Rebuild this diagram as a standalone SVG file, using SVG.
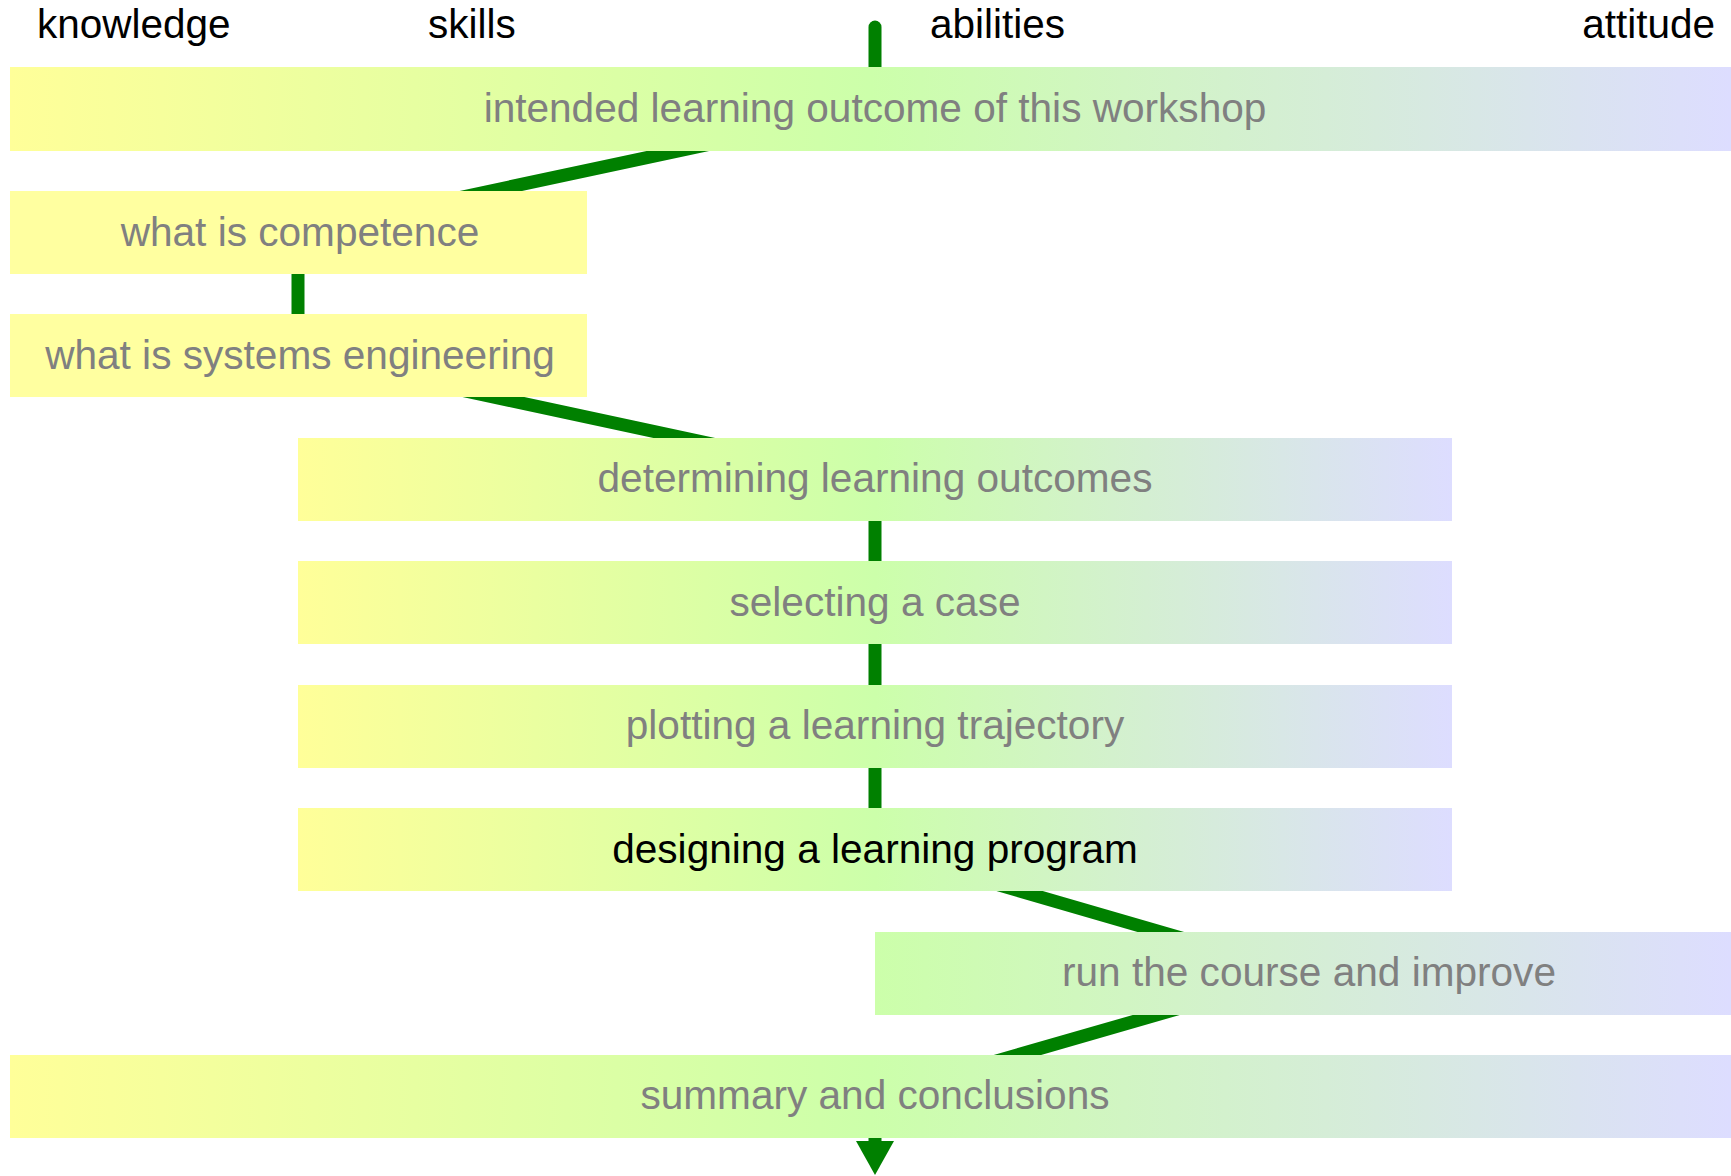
<svg xmlns="http://www.w3.org/2000/svg" width="1731" height="1176" viewBox="0 0 1731 1176">
<defs>
<linearGradient id="gFull" x1="0" y1="0" x2="1" y2="0">
<stop offset="0" stop-color="#ffff99"/>
<stop offset="0.5" stop-color="#ccffaa"/>
<stop offset="1" stop-color="#ddddff"/>
</linearGradient>
<linearGradient id="gHalf" x1="0" y1="0" x2="1" y2="0">
<stop offset="0" stop-color="#ccffaa"/>
<stop offset="1" stop-color="#ddddff"/>
</linearGradient>
<marker id="arrow" markerUnits="userSpaceOnUse" markerWidth="38" markerHeight="38" refX="2" refY="19" orient="auto">
<polygon points="0,0 34,19 0,38" fill="#008000"/>
</marker>
<style>
.hdr{font-family:"Liberation Sans",Arial,sans-serif;font-size:40.5px;fill:#000}
.lbl{font-family:"Liberation Sans",Arial,sans-serif;font-size:40.6px;fill:#808080;text-anchor:middle}
.dark{fill:#000}
.conn{stroke:#008000;stroke-width:13;fill:none;stroke-linecap:round}
.yel{fill:#ffffa0}
.full{fill:url(#gFull)}
.half{fill:url(#gHalf)}
</style>
</defs>
<g id="headers">
<text class="hdr" x="37" y="38">knowledge</text>
<text class="hdr" x="428" y="38">skills</text>
<text class="hdr" x="930" y="38">abilities</text>
<text class="hdr" x="1715" y="38" text-anchor="end">attitude</text>
</g>
<g id="connectors">
<line class="conn" x1="875" y1="27" x2="875" y2="109"/>
<line class="conn" x1="875" y1="109" x2="298" y2="232"/>
<line class="conn" x1="298" y1="232" x2="298" y2="355"/>
<line class="conn" x1="298" y1="355" x2="875" y2="479"/>
<line class="conn" x1="875" y1="479" x2="875" y2="849"/>
<line class="conn" x1="875" y1="849" x2="1302" y2="973"/>
<line class="conn" x1="1302" y1="973" x2="875" y2="1096"/>
<line class="conn" x1="875" y1="1096" x2="875" y2="1143" stroke-linecap="butt" marker-end="url(#arrow)"/>
</g>
<g id="n-outcome">
<rect class="full" x="10" y="67" width="1721" height="84"/>
<text class="lbl" x="875" y="122">intended learning outcome of this workshop</text>
</g>
<g id="n-competence">
<rect class="yel" x="10" y="191" width="577" height="83"/>
<text class="lbl" x="300" y="246">what is competence</text>
</g>
<g id="n-systems">
<rect class="yel" x="10" y="314" width="577" height="83"/>
<text class="lbl" x="300" y="369">what is systems engineering</text>
</g>
<g id="n-determining">
<rect class="full" x="298" y="438" width="1154" height="83"/>
<text class="lbl" x="875" y="492">determining learning outcomes</text>
</g>
<g id="n-selecting">
<rect class="full" x="298" y="561" width="1154" height="83"/>
<text class="lbl" x="875" y="616">selecting a case</text>
</g>
<g id="n-plotting">
<rect class="full" x="298" y="685" width="1154" height="83"/>
<text class="lbl" x="875" y="739">plotting a learning trajectory</text>
</g>
<g id="n-designing">
<rect class="full" x="298" y="808" width="1154" height="83"/>
<text class="lbl dark" x="875" y="863">designing a learning program</text>
</g>
<g id="n-run">
<rect class="half" x="875" y="932" width="856" height="83"/>
<text class="lbl" x="1309" y="986">run the course and improve</text>
</g>
<g id="n-summary">
<rect class="full" x="10" y="1055" width="1721" height="83"/>
<text class="lbl" x="875" y="1109">summary and conclusions</text>
</g>
</svg>
